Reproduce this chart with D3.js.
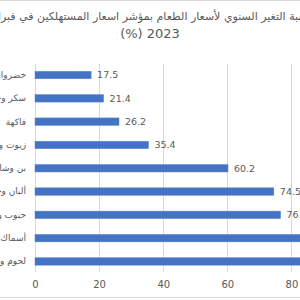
<!DOCTYPE html>
<html><head><meta charset="utf-8">
<script src="https://cdn.jsdelivr.net/npm/d3@7"></script>
<style>html,body{margin:0;padding:0;background:#fff;overflow:hidden}svg{display:block}</style>
</head><body>
<script>
const titleLines = ["نسبة التغير السنوي لأسعار الطعام بمؤشر اسعار المستهلكين في فبراير", "(%) 2023"];
const categories = ["خضروات", "سكر وحلويات", "فاكهة", "زيوت ودهون", "بن وشاي وكاكاو", "ألبان وجبن وبيض", "حبوب وخبز", "أسماك ومأكولات بحرية", "لحوم ودواجن"];
const values = [17.5, 21.4, 26.2, 35.4, 60.2, 74.5, 76.6, 90.4, 96.9];
const xTicks = [0, 20, 40, 60, 80, 100];

const W = 300, H = 300;
const svg = d3.select("body").append("svg").attr("width", W).attr("height", H);
const font = "'DejaVu Sans', 'Liberation Sans', sans-serif";
const grey = "#595959";

// borders
svg.append("line").attr("x1",0).attr("x2",W).attr("y1",0.5).attr("y2",0.5).attr("stroke","#d9d9d9");
svg.append("line").attr("x1",0).attr("x2",W).attr("y1",297.5).attr("y2",297.5).attr("stroke","#d9d9d9");

const x = d3.scaleLinear().domain([0, 100]).range([35, 35 + 100 * 3.206]);
const y = d3.scaleBand().domain(categories).range([63.4, 273.1]).paddingInner(0.68).paddingOuter(0.34);

// gridlines
svg.append("g").selectAll("line").data(xTicks).join("line")
  .attr("x1", d => Math.round(x(d)) + 0.5).attr("x2", d => Math.round(x(d)) + 0.5)
  .attr("y1", 64).attr("y2", 272)
  .attr("stroke", "#d9d9d9").attr("stroke-width", 1);

// x axis tick labels
const xAxis = d3.axisBottom(x).tickValues(xTicks).tickSize(0).tickPadding(0);
const gx = svg.append("g").attr("transform", "translate(0,280)").call(xAxis);
gx.select(".domain").remove();
gx.selectAll("text").attr("fill", grey).attr("font-size", 10).attr("font-family", font).attr("dy", "0.32em").attr("y", 5);

// bars
svg.append("g").selectAll("rect").data(categories).join("rect")
  .attr("x", x(0)).attr("y", d => y(d))
  .attr("width", (d, i) => x(values[i]) - x(0)).attr("height", y.bandwidth())
  .attr("fill", "#4472C4").attr("stroke", "#5b86d1").attr("stroke-width", 0.5);

// value labels
svg.append("g").selectAll("text").data(categories).join("text")
  .attr("x", (d, i) => x(values[i]) + 6).attr("y", d => y(d) + y.bandwidth() / 2)
  .attr("dy", "0.35em").attr("fill", grey).attr("font-size", 9.5).attr("font-family", font)
  .text((d, i) => values[i]);

// y axis labels
const yAxis = d3.axisLeft(y).tickSize(0).tickPadding(9);
const gy = svg.append("g").attr("transform", `translate(${x(0)},0)`).call(yAxis);
gy.select(".domain").remove();
gy.selectAll("text").attr("fill", grey).attr("font-size", 9).attr("font-family", font).attr("direction", "rtl").attr("text-anchor", "start");

// title
svg.append("text").attr("x", 150).attr("y", 20).attr("text-anchor", "middle").attr("direction", "rtl")
  .attr("fill", grey).attr("font-size", 11).attr("font-family", font).text(titleLines[0]);
svg.append("text").attr("x", 150).attr("y", 38).attr("text-anchor", "middle")
  .attr("fill", grey).attr("font-size", 13).attr("font-family", font).text(titleLines[1]);
</script>
</body></html>
